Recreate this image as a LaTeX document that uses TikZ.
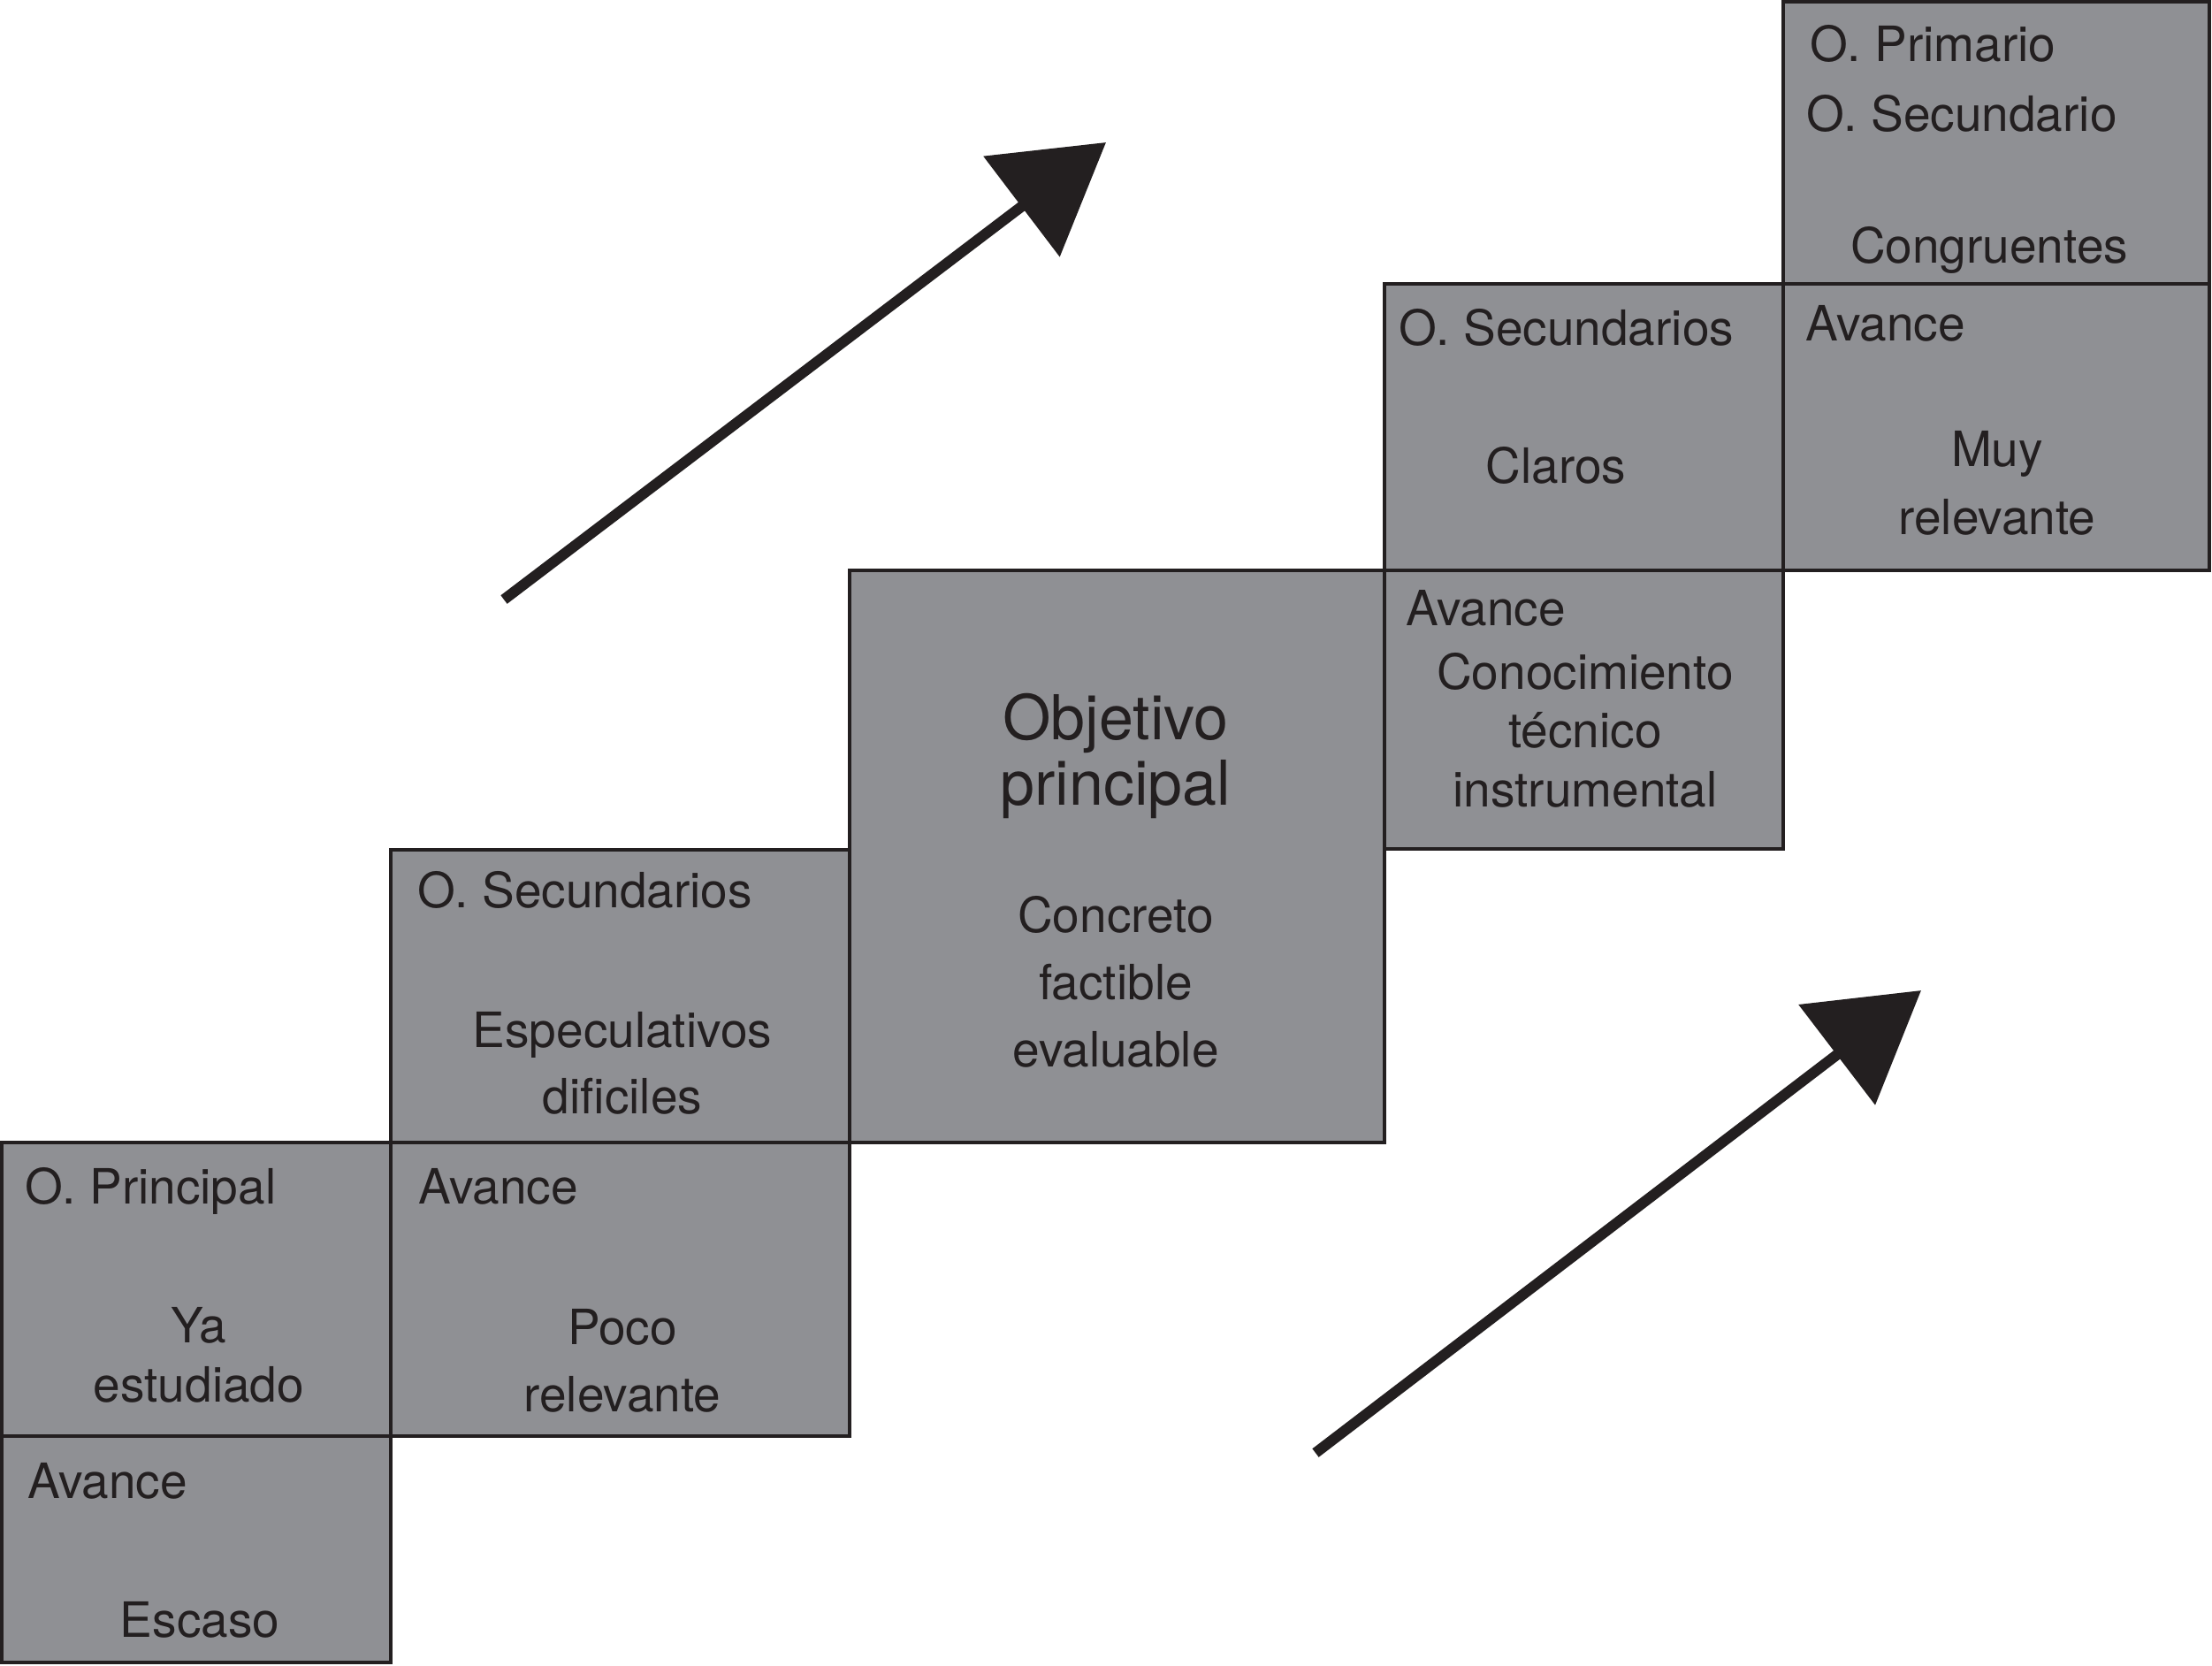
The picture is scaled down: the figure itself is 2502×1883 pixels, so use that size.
\documentclass[tikz,border=0pt]{standalone}
\usepackage{fontspec}
\setmainfont{TeX Gyre Heros}
\usetikzlibrary{arrows.meta,fit}
\definecolor{boxgray}{HTML}{8F9094}
\definecolor{ink}{HTML}{231F20}
\begin{document}
\begin{tikzpicture}[x=0.2pt,y=-0.2pt,
  cell/.style={draw=ink, fill=boxgray, line width=0.9pt, inner sep=0pt},
  lbl/.style={anchor=base west, inner sep=0pt, text=ink, font=\fontsize{11}{13}\selectfont},
  ctr/.style={anchor=base, inner sep=0pt, text=ink, font=\fontsize{11}{13}\selectfont},
  big/.style={anchor=base, inner sep=0pt, text=ink, font=\fontsize{14}{16}\selectfont},
  bigarrow/.style={draw=ink, line width=2.4pt, -{Triangle[length=24pt,width=28pt]}}]
\useasboundingbox (0,0) rectangle (2502,1883);
% boxes
\node[cell, fit={(2,1292) (442,1624)}] (b1) {};
\node[cell, fit={(2,1624) (442,1880)}] (b2) {};
\node[cell, fit={(442,961) (961,1292)}] (b3) {};
\node[cell, fit={(442,1292) (961,1624)}] (b4) {};
\node[cell, fit={(961,645) (1566,1292)}] (b5) {};
\node[cell, fit={(1566,645) (2017,960)}] (b6) {};
\node[cell, fit={(1566,321) (2017,645)}] (b7) {};
\node[cell, fit={(2017,321) (2499,645)}] (b8) {};
\node[cell, fit={(2017,2) (2499,321)}] (b9) {};
% texts box 1
\node[lbl] (t1a) at (27,1361) {O. Principal};
\node[ctr] (t1b) at (225,1518) {Ya};
\node[ctr] (t1c) at (225,1585) {estudiado};
% box 2
\node[lbl] (t2a) at (30,1694) {Avance};
\node[ctr] (t2b) at (226,1851) {Escaso};
% box 3
\node[lbl] (t3a) at (471,1026) {O. Secundarios};
\node[ctr] (t3b) at (704,1184) {Especulativos};
\node[ctr] (t3c) at (704,1259) {dificiles};
% box 4
\node[lbl] (t4a) at (472,1361) {Avance};
\node[ctr] (t4b) at (704,1520) {Poco};
\node[ctr] (t4c) at (704,1596) {relevante};
% box 5
\node[big] (t5a) at (1262,836) {Objetivo};
\node[big] (t5b) at (1262,910) {principal};
\node[ctr] (t5c) at (1262,1054) {Concreto};
\node[ctr] (t5d) at (1262,1130) {factible};
\node[ctr] (t5e) at (1262,1206) {evaluable};
% box 6
\node[lbl] (t6a) at (1589,707) {Avance};
\node[ctr] (t6b) at (1793,779) {Conocimiento};
\node[ctr] (t6c) at (1793,845) {técnico};
\node[ctr] (t6d) at (1793,912) {instrumental};
% box 7
\node[lbl] (t7a) at (1581,390) {O. Secundarios};
\node[ctr] (t7b) at (1760,546) {Claros};
% box 8
\node[lbl] (t8a) at (2041,385) {Avance};
\node[ctr] (t8b) at (2259,527) {Muy};
\node[ctr] (t8c) at (2259,604) {relevante};
% box 9
\node[lbl] (t9a) at (2046,69) {O. Primario};
\node[lbl] (t9b) at (2042,148) {O. Secundario};
\node[ctr] (t9c) at (2250,297) {Congruentes};
% arrows
\coordinate (a1s) at (570,678);
\coordinate (a1e) at (1251,161);
\coordinate (a2s) at (1488,1643);
\coordinate (a2e) at (2173,1120);
\draw[bigarrow] (a1s) -- (a1e);
\draw[bigarrow] (a2s) -- (a2e);
\end{tikzpicture}
\end{document}
